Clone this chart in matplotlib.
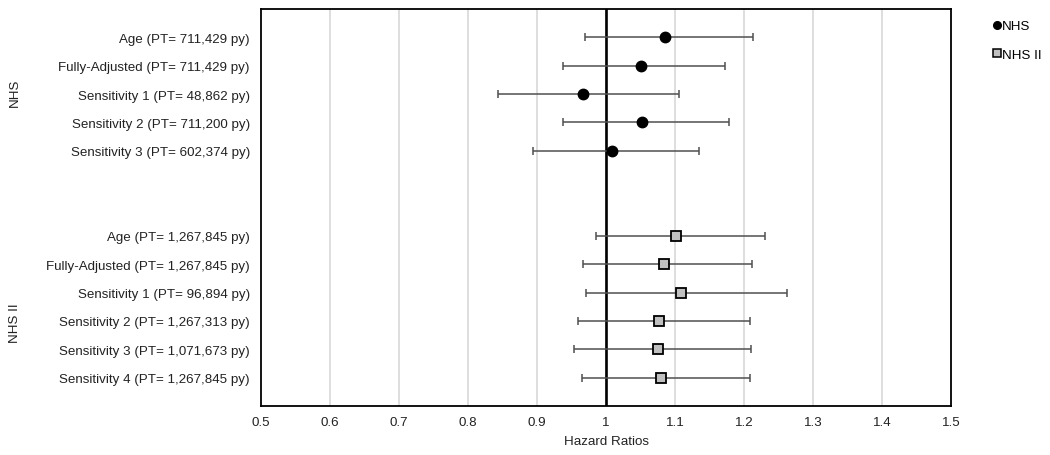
import matplotlib
matplotlib.use("Agg")
import matplotlib.pyplot as plt
from matplotlib.lines import Line2D

plt.rcParams['font.family'] = ['Liberation Sans', 'DejaVu Sans']

nhs_labels = ["Age (PT= 711,429 py)", "Fully-Adjusted (PT= 711,429 py)",
              "Sensitivity 1 (PT= 48,862 py)", "Sensitivity 2 (PT= 711,200 py)",
              "Sensitivity 3 (PT= 602,374 py)"]
nhs_hr = [1.085, 1.050, 0.967, 1.052, 1.009]
nhs_lo = [0.970, 0.937, 0.843, 0.937, 0.894]
nhs_hi = [1.213, 1.173, 1.106, 1.178, 1.135]

nhs2_labels = ["Age (PT= 1,267,845 py)", "Fully-Adjusted (PT= 1,267,845 py)",
               "Sensitivity 1 (PT= 96,894 py)", "Sensitivity 2 (PT= 1,267,313 py)",
               "Sensitivity 3 (PT= 1,071,673 py)", "Sensitivity 4 (PT= 1,267,845 py)"]
nhs2_hr = [1.102, 1.084, 1.108, 1.077, 1.075, 1.080]
nhs2_lo = [0.986, 0.967, 0.971, 0.960, 0.953, 0.965]
nhs2_hi = [1.231, 1.212, 1.262, 1.209, 1.210, 1.209]

xticks = [0.5, 0.6, 0.7, 0.8, 0.9, 1.0, 1.1, 1.2, 1.3, 1.4, 1.5]
xticklabels = ["0.5", "0.6", "0.7", "0.8", "0.9", "1", "1.1", "1.2", "1.3", "1.4", "1.5"]

nhs_pos = [1, 2, 3, 4, 5]
nhs2_pos = [8, 9, 10, 11, 12, 13]

FS = 9.65
TC = '#222222'

fig = plt.figure(figsize=(10.5, 4.56), dpi=100)
ax = fig.add_axes([0.2486, 0.1075, 0.6571, 0.8705])

ax.set_xlim(0.5, 1.5)
ax.set_ylim(14, 0)
for x in xticks[1:-1]:
    ax.axvline(x, color='#d4d4d4', lw=1.1, zorder=0)
ax.axvline(1.0, color='black', lw=1.9, zorder=1)

ecol = '#505050'
nerr = [[h - l for h, l in zip(nhs_hr, nhs_lo)], [u - h for h, u in zip(nhs_hr, nhs_hi)]]
ax.errorbar(nhs_hr, nhs_pos, xerr=nerr, fmt='none', ecolor=ecol, elinewidth=1.1,
            capsize=2.7, capthick=1.1, zorder=2)
ax.plot(nhs_hr, nhs_pos, 'o', color='black', ms=7.5, zorder=3, linestyle='none')

n2err = [[h - l for h, l in zip(nhs2_hr, nhs2_lo)], [u - h for h, u in zip(nhs2_hr, nhs2_hi)]]
ax.errorbar(nhs2_hr, nhs2_pos, xerr=n2err, fmt='none', ecolor=ecol, elinewidth=1.1,
            capsize=2.7, capthick=1.1, zorder=2)
ax.plot(nhs2_hr, nhs2_pos, 's', mfc='#c0c0c0', mec='black', mew=1.3, ms=7.6,
        zorder=3, linestyle='none')

ax.set_yticks(nhs_pos + nhs2_pos)
ax.set_yticklabels(nhs_labels + nhs2_labels, fontsize=FS, color=TC)
ax.tick_params(axis='y', length=0, pad=8)
ax.set_xticks(xticks)
ax.set_xticklabels(xticklabels, fontsize=FS, color=TC)
ax.tick_params(axis='x', length=0, pad=7)
ax.set_xlabel("Hazard Ratios", fontsize=FS, color=TC, labelpad=5)

for s in ax.spines.values():
    s.set_linewidth(1.3)
    s.set_color('black')

fig.text(15 / 1050, 1 - 93 / 456, "NHS", rotation=90, ha='center', va='center',
         fontsize=FS, color=TC)
fig.text(15 / 1050, 1 - 323 / 456, "NHS II", rotation=90, ha='center', va='center',
         fontsize=FS, color=TC)

handles = [Line2D([], [], marker='o', color='black', ms=5.5, linestyle='none'),
           Line2D([], [], marker='s', mfc='#c0c0c0', mec='black', mew=1.1, ms=5.5, linestyle='none')]
fig.legend(handles, ["NHS", "NHS II"], loc='upper left', bbox_to_anchor=(0.9415, 0.966),
           frameon=False, fontsize=FS, handlelength=0.45, handletextpad=0.15,
           labelspacing=1.2, borderaxespad=0)

fig.savefig("out.png", dpi=100, facecolor='white')
